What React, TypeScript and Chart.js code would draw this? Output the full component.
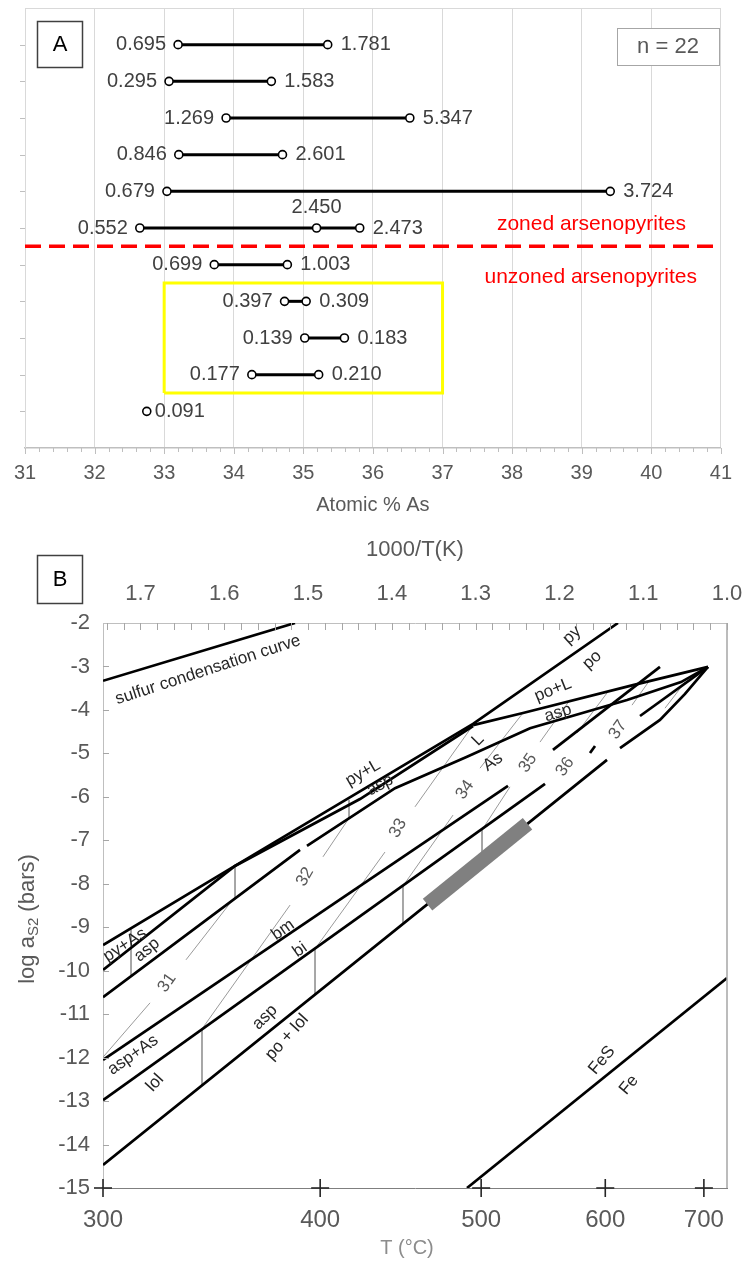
import React, { useEffect, useRef } from 'react';
import { Chart, registerables } from 'chart.js';

Chart.register(...registerables);

const FONT = "'Liberation Sans', Arial, sans-serif";
Chart.defaults.font.family = FONT;

// ---------------- Panel A data ----------------
const rowLevels = [11, 10, 9, 8, 7, 6, 5, 4, 3, 2, 1];
const asLow = [33.2, 33.07, 33.89, 33.21, 33.04, 32.65, 33.72, 34.73, 35.02, 34.26, 32.75];
const asMid = [null, null, null, null, null, 35.19, null, null, null, null, null];
const asHigh = [35.35, 34.54, 36.53, 34.7, 39.41, 35.81, 34.77, 35.04, 35.59, 35.22, null];
const lowLabels = ['0.695', '0.295', '1.269', '0.846', '0.679', '0.552', '0.699', '0.397', '0.139', '0.177', ''];
const midLabels = ['', '', '', '', '', '2.450', '', '', '', '', ''];
const highLabels = ['1.781', '1.583', '5.347', '2.601', '3.724', '2.473', '1.003', '0.309', '0.183', '0.210', '0.091'];
const dividerLevel = 5.5;
const boxAs = [33, 37];
const boxLevels = [1.5, 4.5];
const groupNames = ['zoned arsenopyrites', 'unzoned arsenopyrites'];
const groupNameAs = [39.14, 39.13];
const groupNameLevels = [6.1, 4.66];
const asAxis = [31, 41];
const sampleCount = 'n = 22';

// ---------------- Panel B data ----------------
const invTRange = [1.0, 1000 / 573.15];
const invTTicks = [1.0, 1.1, 1.2, 1.3, 1.4, 1.5, 1.6, 1.7];
const tempTicks = [300, 400, 500, 600, 700];
const logS2Range = [-15, -2];

const sulfurX = [1.7447, 1.5156];
const sulfurY = [-3.33, -2.0];
const pyX = [1.7447, 1.5872, 1.3031, 1.1301];
const pyY = [-9.41, -7.59, -4.32, -2.0];
const aspUpperX = [1.7447, 1.5872, 1.438, 1.3031];
const aspUpperY = [-9.98, -7.59, -6.05, -4.37];
const aspLowerX = [1.7447, 1.5096, null, 1.5013, 1.3962, 1.3103, 1.2351, 1.1193, 1.0549, 1.0227];
const aspLowerY = [-10.61, -7.22, null, -7.13, -5.8, -5.08, -4.42, -3.77, -3.36, -3.01];
const poLX = [1.3031, 1.2435, 1.1122, 1.0227];
const poLY = [-4.35, -4.07, -3.43, -3.01];
const apexX = [1.1038, 1.0227];
const apexY = [-4.14, -3.01];
const midX = [1.2077, 1.08];
const midY = [-4.92, -3.01];
const dashX = [1.1635, 1.1575];
const dashY = [-4.99, -4.83];
const bmX = [1.7447, 1.2614];
const bmY = [-12.05, -5.75];
const biX = [1.7447, 1.2172];
const biY = [-12.98, -5.7];
const lolX = [1.7447, 1.1432, null, 1.1277, 1.08, 1.0501, 1.0227];
const lolY = [-14.47, -5.15, null, -4.88, -4.23, -3.63, -3.01];
const feX = [1.3103, 1.0];
const feY = [-15, -10.17];
const bandX = [1.3574, 1.2381];
const bandY = [-8.48, -6.62];

const tieX = [1.7113, 1.5872, 1.4511, 1.6266, 1.4917, 1.3867, 1.2924];
const tieTop = [-9.05, -7.59, -6.07, -11.34, -9.5, -8.05, -6.76];
const tieBottom = [-10.1, -8.3, -6.49, -12.65, -10.56, -8.9, -7.3];

const isoStartX = [1.7447, 1.6457, 1.6266, 1.4822, 1.4917, 1.3724, 1.3867, 1.2948, 1.2924, 1.2232, 1.179, 1.1134, 1.074];
const isoStartY = [-11.99, -9.75, -11.34, -7.38, -9.5, -6.23, -8.05, -5.34, -6.76, -4.74, -4.53, -3.89, -3.96];
const isoEndX = [1.6886, 1.5872, 1.5215, 1.4511, 1.4082, 1.3031, 1.327, 1.2435, 1.259, 1.1874, 1.1432, 1.0919, 1.0501];
const isoEndY = [-10.74, -8.3, -8.49, -6.49, -7.27, -4.35, -6.42, -4.07, -5.77, -3.77, -3.61, -3.31, -3.36];

const phaseText = ['sulfur condensation curve', 'py', 'po', 'po+L', 'asp', 'L', 'As', 'py+L', 'asp', 'py+As', 'asp', 'bm', 'bi', 'asp+As', 'lol', 'asp', 'po + lol', 'FeS', 'Fe'];
const phaseX = [1.6194, 1.185, 1.1611, 1.2077, 1.2017, 1.2972, 1.2793, 1.4344, 1.4141, 1.7185, 1.6922, 1.5299, 1.5096, 1.7089, 1.6827, 1.5514, 1.5251, 1.1492, 1.117];
const phaseY = [-3.08, -2.28, -2.85, -3.54, -4.07, -4.69, -5.2, -5.45, -5.73, -9.41, -9.52, -9.06, -9.52, -11.94, -12.58, -11.07, -11.53, -12.06, -12.63];
const phaseRot = [-18, -42, -42, -22, -17, -45, -35, -30, -28, -33, -40, -35, -35, -35, -48, -45, -48, -50, -50];

const isoText = ['31', '32', '33', '34', '35', '36', '37'];
const isoLabelX = [1.6683, 1.5036, 1.3926, 1.3127, 1.2375, 1.1933, 1.1301];
const isoLabelY = [-10.28, -7.84, -6.72, -5.84, -5.22, -5.31, -4.46];
const isoRot = [-55, -60, -60, -55, -55, -55, -55];

// ---------------- helpers ----------------
function pts(xs: any[], ys: any[]) {
  return xs.map((x, i) => (x == null ? { x: null, y: null } : { x, y: ys[i] }));
}

function hline(ctx: any, x1: number, y1: number, x2: number, y2: number) {
  ctx.beginPath();
  ctx.moveTo(x1, y1);
  ctx.lineTo(x2, y2);
  ctx.stroke();
}

// ---------------- Panel A ----------------
const panelAPlugin = {
  id: 'panelA',
  afterDraw(chart: any) {
    const { ctx, chartArea: ca, scales } = chart;
    const xs = scales.x;
    const ys = scales.y;
    ctx.save();
    ctx.lineWidth = 1;
    ctx.strokeStyle = '#d9d9d9';
    hline(ctx, ca.left, Math.round(ca.top) + 0.5, ca.right, Math.round(ca.top) + 0.5);
    ctx.strokeStyle = '#bfbfbf';
    for (let k = 0; k <= 50; k++) {
      const v = asAxis[0] + k * 0.2;
      const px = Math.round(xs.getPixelForValue(v)) + 0.5;
      hline(ctx, px, ca.bottom, px, ca.bottom + (k % 5 === 0 ? 6 : 4));
    }
    rowLevels.forEach((lv) => {
      const py = Math.round(ys.getPixelForValue(lv)) + 0.5;
      hline(ctx, ca.left - 5, py, ca.left, py);
    });

    ctx.font = `20px ${FONT}`;
    ctx.fillStyle = '#404040';
    ctx.textBaseline = 'middle';
    rowLevels.forEach((lv, i) => {
      const py = ys.getPixelForValue(lv);
      const xl = xs.getPixelForValue(asLow[i]);
      if (lowLabels[i]) {
        ctx.textAlign = 'right';
        ctx.fillText(lowLabels[i], xl - 12, py);
      }
      const hi = asHigh[i] != null ? asHigh[i] : asLow[i];
      const xh = xs.getPixelForValue(hi);
      if (highLabels[i]) {
        ctx.textAlign = 'left';
        ctx.fillText(highLabels[i], xh + (asHigh[i] != null ? 13 : 8), py);
      }
      if (asMid[i] != null && midLabels[i]) {
        ctx.textAlign = 'center';
        ctx.fillText(midLabels[i], xs.getPixelForValue(asMid[i]), py - 21);
      }
    });

    ctx.fillStyle = '#ff0000';
    ctx.font = `21px ${FONT}`;
    ctx.textAlign = 'center';
    groupNames.forEach((t, i) => {
      ctx.fillText(t, xs.getPixelForValue(groupNameAs[i]), ys.getPixelForValue(groupNameLevels[i]));
    });

    // panel letter box
    ctx.fillStyle = '#fff';
    ctx.fillRect(37, 21, 45, 46);
    ctx.strokeStyle = '#404040';
    ctx.lineWidth = 1.5;
    ctx.strokeRect(37.5, 21.5, 45, 46);
    ctx.fillStyle = '#000';
    ctx.font = `22px ${FONT}`;
    ctx.fillText('A', 60, 45);

    // n box
    ctx.fillStyle = '#fff';
    ctx.fillRect(617, 28, 102, 37);
    ctx.strokeStyle = '#a6a6a6';
    ctx.lineWidth = 1;
    ctx.strokeRect(617.5, 28.5, 102, 37);
    ctx.fillStyle = '#595959';
    ctx.font = `22px ${FONT}`;
    ctx.fillText(sampleCount, 668, 47);
    ctx.restore();
  },
};

function configA(): any {
  const rows = rowLevels.map((lv, i) => {
    const data: any[] = [{ x: asLow[i], y: lv }];
    if (asMid[i] != null) data.push({ x: asMid[i], y: lv });
    if (asHigh[i] != null) data.push({ x: asHigh[i], y: lv });
    return {
      data,
      showLine: true,
      borderColor: '#000',
      borderWidth: 3,
      pointRadius: 4,
      pointBackgroundColor: '#fff',
      pointBorderColor: '#000',
      pointBorderWidth: 1.6,
      order: 0,
    };
  });
  const divider = {
    data: [
      { x: asAxis[0], y: dividerLevel },
      { x: asAxis[1], y: dividerLevel },
    ],
    showLine: true,
    borderColor: '#ff0000',
    borderWidth: 3.5,
    borderDash: [16, 8],
    pointRadius: 0,
    order: 1,
  };
  const box = {
    data: [
      { x: boxAs[0], y: boxLevels[0] },
      { x: boxAs[0], y: boxLevels[1] },
      { x: boxAs[1], y: boxLevels[1] },
      { x: boxAs[1], y: boxLevels[0] },
      { x: boxAs[0], y: boxLevels[0] },
    ],
    showLine: true,
    borderColor: '#ffff00',
    borderWidth: 3,
    pointRadius: 0,
    order: 1,
  };
  return {
    type: 'scatter',
    data: { datasets: [...rows, divider, box] },
    options: {
      animation: false,
      responsive: false,
      maintainAspectRatio: false,
      layout: { padding: { left: 0, right: 14, top: 8, bottom: 0 } },
      plugins: { legend: { display: false }, tooltip: { enabled: false } },
      scales: {
        x: {
          type: 'linear',
          position: 'bottom',
          min: asAxis[0],
          max: asAxis[1],
          ticks: { stepSize: 1, font: { size: 20 }, color: '#595959', padding: 13, maxRotation: 0, autoSkip: false },
          grid: { color: '#d9d9d9', drawTicks: false, lineWidth: 1 },
          border: { display: true, color: '#bfbfbf', width: 1.5 },
          title: { display: true, text: 'Atomic % As', font: { size: 20 }, color: '#595959', padding: { top: 0, bottom: 3 } },
          afterFit: (s: any) => {
            s.height = 72;
          },
        },
        y: {
          type: 'linear',
          min: 0,
          max: 12,
          ticks: { display: false, stepSize: 1 },
          grid: { display: false, drawTicks: false },
          border: { display: true, color: '#d9d9d9' },
          afterFit: (s: any) => {
            s.width = 25;
          },
        },
      },
    },
    plugins: [panelAPlugin],
  };
}

// ---------------- Panel B ----------------
const panelBPlugin = {
  id: 'panelB',
  afterDraw(chart: any) {
    const { ctx, chartArea: ca, scales } = chart;
    const xs = scales.x;
    const xt = scales.xT;
    const ys = scales.y;
    ctx.save();
    // right frame
    ctx.strokeStyle = '#a6a6a6';
    ctx.lineWidth = 1.5;
    hline(ctx, ca.right, ca.top, ca.right, ca.bottom);
    // top minor ticks (inside)
    ctx.strokeStyle = '#a6a6a6';
    ctx.lineWidth = 1;
    for (let k = 0; k <= 37; k++) {
      const v = 1.0 + k * 0.02;
      if (v > invTRange[1]) break;
      const px = Math.round(xs.getPixelForValue(v)) + 0.5;
      hline(ctx, px, ca.top, px, ca.top + 7);
    }
    // left ticks (inside)
    for (let v = logS2Range[0] + 1; v < logS2Range[1]; v++) {
      const py = Math.round(ys.getPixelForValue(v)) + 0.5;
      hline(ctx, ca.left, py, ca.left + 6, py);
    }
    // bottom crosses
    ctx.strokeStyle = '#262626';
    ctx.lineWidth = 1.6;
    tempTicks.forEach((t) => {
      const px = xt.getPixelForValue(1000 / (t + 273.15));
      hline(ctx, px, ca.bottom - 9, px, ca.bottom + 9);
      hline(ctx, px - 9, ca.bottom, px + 9, ca.bottom);
    });

    // bottom axis title
    ctx.fillStyle = '#8c8c8c';
    ctx.font = `20px ${FONT}`;
    ctx.textAlign = 'center';
    ctx.textBaseline = 'middle';
    ctx.fillText('T (°C)', 407, 728);

    // y title with subscript
    ctx.save();
    ctx.translate(28, 399);
    ctx.rotate(-Math.PI / 2);
    ctx.fillStyle = '#595959';
    ctx.textBaseline = 'middle';
    ctx.textAlign = 'left';
    const big = `22px ${FONT}`;
    const small = `15px ${FONT}`;
    ctx.font = big;
    const w1 = ctx.measureText('log a').width;
    const w3 = ctx.measureText(' (bars)').width;
    ctx.font = small;
    const w2 = ctx.measureText('S2').width;
    let x0 = -(w1 + w2 + w3) / 2;
    ctx.font = big;
    ctx.fillText('log a', x0, 0);
    x0 += w1;
    ctx.font = small;
    ctx.fillText('S2', x0, 6);
    x0 += w2;
    ctx.font = big;
    ctx.fillText(' (bars)', x0, 0);
    ctx.restore();

    // phase labels
    const drawRot = (t: string, px: number, py: number, deg: number) => {
      ctx.save();
      ctx.translate(px, py);
      ctx.rotate((deg * Math.PI) / 180);
      ctx.fillText(t, 0, 0);
      ctx.restore();
    };
    ctx.textAlign = 'center';
    ctx.textBaseline = 'middle';
    ctx.font = `17px ${FONT}`;
    ctx.fillStyle = '#262626';
    phaseText.forEach((t, i) => {
      drawRot(t, xs.getPixelForValue(phaseX[i]), ys.getPixelForValue(phaseY[i]), phaseRot[i]);
    });
    ctx.fillStyle = '#595959';
    isoText.forEach((t, i) => {
      drawRot(t, xs.getPixelForValue(isoLabelX[i]), ys.getPixelForValue(isoLabelY[i]), isoRot[i]);
    });

    // panel letter box
    ctx.fillStyle = '#fff';
    ctx.fillRect(37, 35, 45, 48);
    ctx.strokeStyle = '#404040';
    ctx.lineWidth = 1.5;
    ctx.strokeRect(37.5, 35.5, 45, 48);
    ctx.fillStyle = '#000';
    ctx.font = `22px ${FONT}`;
    ctx.fillText('B', 60, 60);
    ctx.restore();
  },
};

function configB(): any {
  const thick = { borderColor: '#000', borderWidth: 2.7, pointRadius: 0, showLine: true, order: 1, xAxisID: 'x', yAxisID: 'y' };
  const thin = { borderColor: '#9a9a9a', borderWidth: 1, pointRadius: 0, showLine: true, order: 2, xAxisID: 'x', yAxisID: 'y' };
  const datasets: any[] = [];
  datasets.push({ ...thick, data: pts(bandX, bandY), borderColor: '#808080', borderWidth: 15, borderCapStyle: 'butt', order: 0 });
  [
    [sulfurX, sulfurY],
    [pyX, pyY],
    [aspUpperX, aspUpperY],
    [aspLowerX, aspLowerY],
    [poLX, poLY],
    [apexX, apexY],
    [midX, midY],
    [dashX, dashY],
    [bmX, bmY],
    [biX, biY],
    [lolX, lolY],
    [feX, feY],
  ].forEach(([xs, ys]) => datasets.push({ ...thick, data: pts(xs as any[], ys as any[]) }));
  tieX.forEach((x, i) => datasets.push({ ...thin, data: pts([x, x], [tieTop[i], tieBottom[i]]) }));
  isoStartX.forEach((x, i) =>
    datasets.push({ ...thin, data: pts([x, isoEndX[i]], [isoStartY[i], isoEndY[i]]) })
  );

  return {
    type: 'scatter',
    data: { datasets },
    options: {
      animation: false,
      responsive: false,
      maintainAspectRatio: false,
      layout: { padding: { left: 0, right: 18, top: 0, bottom: 0 } },
      plugins: { legend: { display: false }, tooltip: { enabled: false } },
      scales: {
        x: {
          type: 'linear',
          axis: 'x',
          position: 'top',
          min: invTRange[0],
          max: invTRange[1],
          reverse: true,
          afterBuildTicks: (s: any) => {
            s.ticks = invTTicks.map((v) => ({ value: v }));
          },
          ticks: {
            font: { size: 22 },
            color: '#595959',
            padding: 16,
            autoSkip: false,
            maxRotation: 0,
            callback: (v: any) => Number(v).toFixed(1),
          },
          grid: { display: false, drawTicks: false },
          border: { display: true, color: '#bfbfbf' },
          title: { display: true, text: '1000/T(K)', font: { size: 22 }, color: '#595959', padding: { top: 17, bottom: 0 } },
          afterFit: (s: any) => {
            s.height = 103;
          },
        },
        xT: {
          type: 'linear',
          axis: 'x',
          position: 'bottom',
          min: invTRange[0],
          max: invTRange[1],
          reverse: true,
          afterBuildTicks: (s: any) => {
            s.ticks = tempTicks.map((t) => ({ value: 1000 / (t + 273.15) }));
          },
          ticks: {
            font: { size: 24 },
            color: '#595959',
            padding: 18,
            autoSkip: false,
            maxRotation: 0,
            callback: (v: any) => String(Math.round((1000 / Number(v) - 273.15) / 100) * 100),
          },
          grid: { display: false, drawTicks: false },
          border: { display: true, color: '#7f7f7f' },
          title: { display: false },
          afterFit: (s: any) => {
            s.height = 73;
          },
        },
        y: {
          type: 'linear',
          min: logS2Range[0],
          max: logS2Range[1],
          ticks: { stepSize: 1, font: { size: 22 }, color: '#595959', padding: 13 },
          grid: { display: false, drawTicks: false },
          border: { display: true, color: '#bfbfbf' },
          afterFit: (s: any) => {
            s.width = 103;
          },
        },
      },
    },
    plugins: [panelBPlugin],
  };
}

export default function App() {
  const refA = useRef<HTMLCanvasElement>(null);
  const refB = useRef<HTMLCanvasElement>(null);
  useEffect(() => {
    const a = new Chart(refA.current as any, configA());
    const b = new Chart(refB.current as any, configB());
    return () => {
      a.destroy();
      b.destroy();
    };
  }, []);
  return (
    <div style={{ position: 'absolute', left: 0, top: 0, width: 745, height: 1261, background: '#fff' }}>
      <canvas ref={refA} width={745} height={520} style={{ position: 'absolute', left: 0, top: 0, width: 745, height: 520 }} />
      <canvas ref={refB} width={745} height={741} style={{ position: 'absolute', left: 0, top: 520, width: 745, height: 741 }} />
    </div>
  );
}
